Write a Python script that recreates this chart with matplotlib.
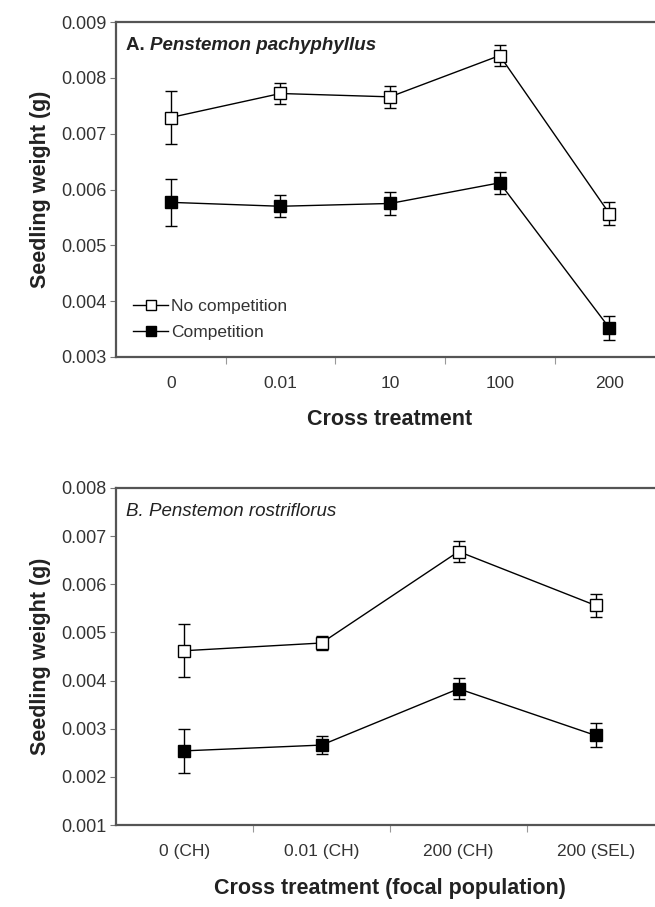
import matplotlib
matplotlib.use("Agg")
import matplotlib.pyplot as plt
from matplotlib.lines import Line2D
import numpy as np

plt.rcParams['font.family'] = ['Liberation Sans', 'DejaVu Sans']

# panel A: Penstemon pachyphyllus
cats_a = ['0', '0.01', '10', '100', '200']
nocomp_a = [0.00729, 0.00772, 0.00766, 0.00840, 0.00557]
nocomp_a_err = [0.00048, 0.00018, 0.00020, 0.00018, 0.00020]
comp_a = [0.00577, 0.00570, 0.00575, 0.00612, 0.00352]
comp_a_err = [0.00042, 0.00020, 0.00020, 0.00020, 0.00022]

# panel B: Penstemon rostriflorus
cats_b = ['0 (CH)', '0.01 (CH)', '200 (CH)', '200 (SEL)']
nocomp_b = [0.00462, 0.00478, 0.00668, 0.00556]
nocomp_b_err = [0.00055, 0.00015, 0.00022, 0.00023]
comp_b = [0.00254, 0.00266, 0.00383, 0.00286]
comp_b_err = [0.00045, 0.00018, 0.00022, 0.00025]

fig = plt.figure(figsize=(6.55, 9.07), dpi=100)
axA = fig.add_axes([0.177, 0.6064, 0.837, 0.3693])
axB = fig.add_axes([0.177, 0.0904, 0.837, 0.3716])

tc = '#333333'


def draw(ax, cats, nc, nce, c, ce, ylim, xlabel):
    x = np.arange(len(cats))
    ax.errorbar(x, nc, yerr=nce, color='k', lw=1, marker='s', ms=8.5,
                mfc='white', mec='k', mew=1, capsize=4, elinewidth=1,
                capthick=1, zorder=3)
    ax.errorbar(x, c, yerr=ce, color='k', lw=1, marker='s', ms=8.5,
                mfc='black', mec='k', mew=1, capsize=4, elinewidth=1,
                capthick=1, zorder=3)
    ax.set_xlim(-0.5, len(cats) - 0.5)
    ax.set_ylim(*ylim)
    yt = np.arange(ylim[0], ylim[1] + 1e-9, 0.001)
    ax.set_yticks(yt)
    ax.set_yticklabels(['%.3f' % v for v in yt])
    ax.set_xticks(np.arange(len(cats) - 1) + 0.5)
    ax.set_xticklabels([])
    ax.set_xticks(x, minor=True)
    ax.set_xticklabels(cats, minor=True)
    ax.tick_params(axis='x', which='minor', length=0, pad=14, labelsize=12.5,
                   labelcolor=tc)
    ax.tick_params(axis='x', which='major', length=5, width=0.8, color='#999999')
    ax.tick_params(axis='y', length=4, width=0.8, labelsize=13, labelcolor=tc,
                   color='#777777', pad=3)
    for s in ax.spines.values():
        s.set_color('#555555')
        s.set_linewidth(1.6)
    ax.set_ylabel('Seedling weight (g)', fontsize=15.5, fontweight='bold',
                  color='#222222', labelpad=7)
    ax.set_xlabel(xlabel, fontsize=15.5, fontweight='bold', color='#222222',
                  labelpad=13)


draw(axA, cats_a, nocomp_a, nocomp_a_err, comp_a, comp_a_err,
     (0.003, 0.009), 'Cross treatment')
draw(axB, cats_b, nocomp_b, nocomp_b_err, comp_b, comp_b_err,
     (0.001, 0.008), 'Cross treatment (focal population)')

axA.text(0.018, 0.955, 'A. ', transform=axA.transAxes, fontsize=13.5,
         fontweight='bold', va='top', color='#222222')
axA.text(0.062, 0.955, 'Penstemon pachyphyllus', transform=axA.transAxes,
         fontsize=13.5, fontweight='bold', style='italic', va='top',
         color='#222222')
axB.text(0.018, 0.955, 'B. Penstemon rostriflorus', transform=axB.transAxes,
         fontsize=13.5, style='italic', va='top', color='#222222')

handles = [
    Line2D([], [], color='k', lw=1, marker='s', ms=7, mfc='white', mec='k'),
    Line2D([], [], color='k', lw=1, marker='s', ms=7, mfc='black', mec='k'),
]
leg = axA.legend(handles, ['No competition', 'Competition'], loc='lower left',
                 bbox_to_anchor=(0.0, 0.0), frameon=False, fontsize=12.5,
                 handlelength=2.0, handletextpad=0.2, labelspacing=0.6,
                 borderaxespad=0.6)
for t in leg.get_texts():
    t.set_color(tc)

fig.savefig('out.png', dpi=100)
